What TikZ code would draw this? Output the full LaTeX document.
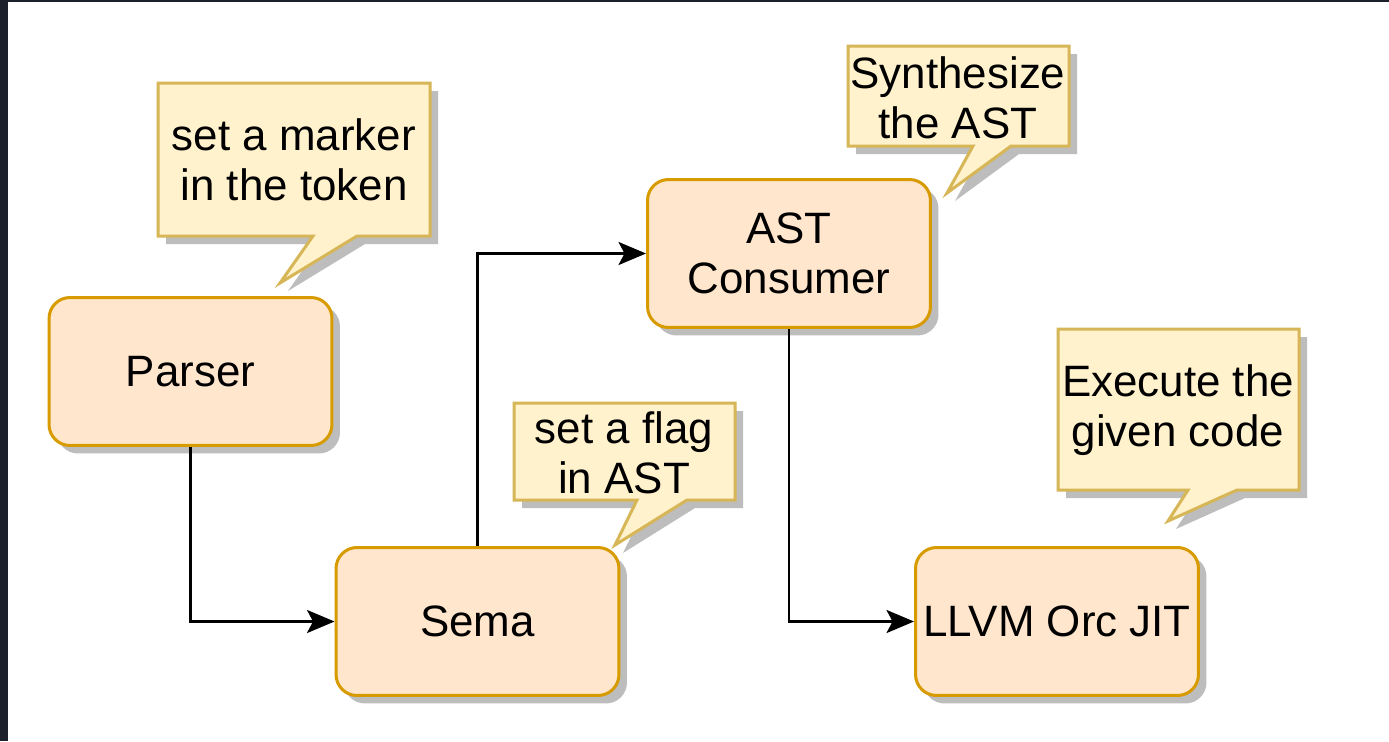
\documentclass[tikz,border=0pt]{standalone}
\usepackage{fontspec}
\setmainfont{Liberation Sans}
\usetikzlibrary{arrows.meta}

\definecolor{frameDark}{HTML}{1B202B}
\definecolor{boxFill}{HTML}{FFE6CC}
\definecolor{boxLine}{HTML}{D79B00}
\definecolor{noteFill}{HTML}{FFF2CC}
\definecolor{noteLine}{HTML}{D6B656}
\definecolor{shadowGray}{HTML}{BDBDBD}

\tikzset{
  stage/.style={draw=boxLine, fill=boxFill, line width=0.06cm, rounded corners=0.42cm,
    minimum width=5.66cm, minimum height=2.96cm, align=center,
    font=\fontsize{25}{28.5}\selectfont,
    preaction={fill=shadowGray, transform canvas={xshift=0.16cm, yshift=-0.16cm}}},
  note/.style={draw=noteLine, fill=noteFill, line width=0.06cm, line join=miter,
    preaction={fill=shadowGray, transform canvas={xshift=0.16cm, yshift=-0.16cm}}},
  notetext/.style={align=center, font=\fontsize{25}{28.5}\selectfont},
  flow/.style={line width=0.055cm, -{Stealth[length=0.55cm, width=0.46cm, inset=0.12cm]}}
}

\begin{document}
\begin{tikzpicture}[x=0.02cm, y=-0.02cm]

    % frame
    \useasboundingbox (0,0) rectangle (1389,741);
    \fill[frameDark] (0,0) rectangle (1389,741);
    \fill[white] (8,2) rectangle (1389,741);

    % stages
    \node[stage] (parser) at (190.5,371.5) {Parser};
    \node[stage] (sema)   at (477.5,621.5) {Sema};
    \node[stage] (ast)    at (789,253.5)   {AST\\Consumer};
    \node[stage] (jit)    at (1057,621.5)  {LLVM Orc JIT};

    % callouts
    \filldraw[note] (158,83) -- (430,83) -- (430,236) -- (357,236) -- (280,283)
        -- (313,236) -- (158,236) -- cycle;
    \node[notetext] (marker) at (294,160) {set a marker\\in the token};

    \filldraw[note] (514,403) -- (735,403) -- (735,500) -- (687,500) -- (615,545)
        -- (637,500) -- (514,500) -- cycle;
    \node[notetext] (flag) at (624,453) {set a flag\\in AST};

    \filldraw[note] (848,46) -- (1069,46) -- (1069,146) -- (1011,146) -- (947,193)
        -- (973,146) -- (848,146) -- cycle;
    \node[notetext] (synth) at (958,98) {Synthesize\\the AST};

    \filldraw[note] (1058,329) -- (1299,329) -- (1299,490) -- (1237,490) -- (1168,521)
        -- (1188,490) -- (1058,490) -- cycle;
    \node[notetext] (exec) at (1178,410) {Execute the\\given code};

    % connectors
    \draw[flow] (parser.south) |- (sema.west);
    \draw[flow] (sema.north) |- (ast.west);
    \draw[flow] (ast.south) |- (jit.west);

\end{tikzpicture}
\end{document}
